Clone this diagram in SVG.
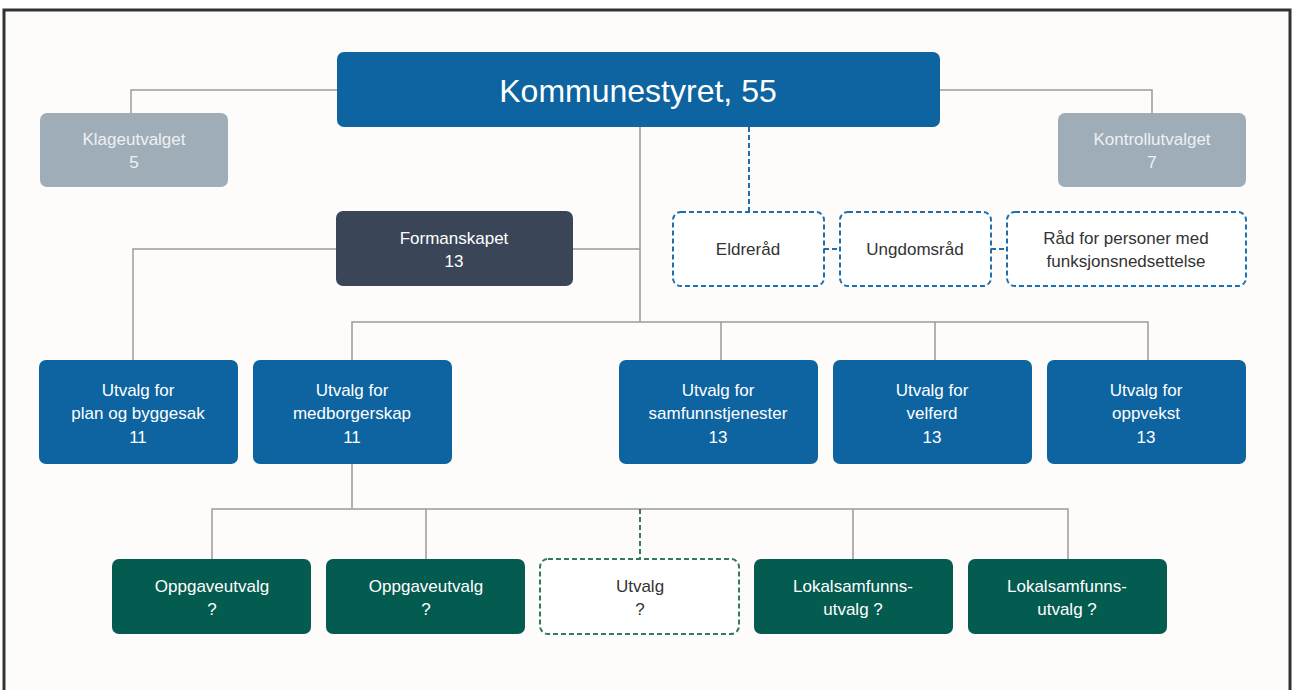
<svg xmlns="http://www.w3.org/2000/svg" width="1295" height="690" viewBox="0 0 1295 690">
<style>
.t{font-family:"Liberation Sans",Arial,sans-serif;font-size:17px;text-anchor:middle}
.w{fill:#ffffff}
.g{fill:#eef1f4}
.d{fill:#333333}
.blue{fill:#0d64a0}
.gray{fill:#9eadb8}
.dark{fill:#3a4658}
.green{fill:#045b50}
.dashb{fill:#ffffff;stroke:#1d6fb0;stroke-width:2;stroke-dasharray:5 3}
.dashg{fill:#ffffff;stroke:#2f7a62;stroke-width:2;stroke-dasharray:5 3}
.ln{fill:none;stroke:#9a9a9a;stroke-width:1.5}
.lnb{fill:none;stroke:#1d6fb0;stroke-width:2;stroke-dasharray:5 3}
.lng{fill:none;stroke:#2f7a62;stroke-width:2;stroke-dasharray:5 3}
</style>
<rect x="0" y="0" width="1295" height="690" fill="#ffffff"/>
<rect x="4" y="10" width="1286" height="690" fill="#fdfcfa" stroke="#333333" stroke-width="3"/>
<g id="connectors">
<polyline class="ln" points="337,90 131,90 131,113"/>
<polyline class="ln" points="940,90 1152,90 1152,113"/>
<line class="ln" x1="640" y1="127" x2="640" y2="322"/>
<line class="ln" x1="573" y1="249" x2="640" y2="249"/>
<polyline class="ln" points="336,249 133,249 133,360"/>
<polyline class="ln" points="352,360 352,322 1148,322 1148,360"/>
<line class="ln" x1="721" y1="322" x2="721" y2="360"/>
<line class="ln" x1="935" y1="322" x2="935" y2="360"/>
<line class="ln" x1="352" y1="464" x2="352" y2="509"/>
<polyline class="ln" points="212,559 212,509 1068,509 1068,559"/>
<line class="ln" x1="426" y1="509" x2="426" y2="559"/>
<line class="ln" x1="853" y1="509" x2="853" y2="559"/>
<line class="lng" x1="640" y1="509" x2="640" y2="559"/>
<line class="lnb" x1="749" y1="127" x2="749" y2="211"/>
<line class="lnb" x1="824" y1="249" x2="840" y2="249"/>
<line class="lnb" x1="991" y1="249" x2="1007" y2="249"/>
</g>
<g id="kommunestyret">
<rect class="blue" x="337" y="52" width="603" height="75" rx="7"/>
<text class="t w" x="638" y="102" style="font-size:32px">Kommunestyret, 55</text>
</g>
<g id="klageutvalget">
<rect class="gray" x="40" y="113" width="188" height="74" rx="7"/>
<text class="t g" x="134" y="145">Klageutvalget</text>
<text class="t g" x="134" y="168">5</text>
</g>
<g id="kontrollutvalget">
<rect class="gray" x="1058" y="113" width="188" height="74" rx="7"/>
<text class="t g" x="1152" y="145">Kontrollutvalget</text>
<text class="t g" x="1152" y="168">7</text>
</g>
<g id="formanskapet">
<rect class="dark" x="336" y="211" width="237" height="75" rx="7"/>
<text class="t w" x="454" y="244">Formanskapet</text>
<text class="t w" x="454" y="267">13</text>
</g>
<g id="eldrerad">
<rect class="dashb" x="673" y="212" width="151" height="74" rx="8"/>
<text class="t d" x="748" y="255">Eldreråd</text>
</g>
<g id="ungdomsrad">
<rect class="dashb" x="840" y="212" width="151" height="74" rx="8"/>
<text class="t d" x="915" y="255">Ungdomsråd</text>
</g>
<g id="rad-funksjon">
<rect class="dashb" x="1007" y="212" width="239" height="74" rx="8"/>
<text class="t d" x="1126" y="244">Råd for personer med</text>
<text class="t d" x="1126" y="267">funksjonsnedsettelse</text>
</g>
<g id="plan">
<rect class="blue" x="39" y="360" width="199" height="104" rx="7"/>
<text class="t w" x="138" y="396">Utvalg for</text>
<text class="t w" x="138" y="419">plan og byggesak</text>
<text class="t w" x="138" y="443">11</text>
</g>
<g id="medborgerskap">
<rect class="blue" x="253" y="360" width="199" height="104" rx="7"/>
<text class="t w" x="352" y="396">Utvalg for</text>
<text class="t w" x="352" y="419">medborgerskap</text>
<text class="t w" x="352" y="443">11</text>
</g>
<g id="samfunnstjenester">
<rect class="blue" x="619" y="360" width="199" height="104" rx="7"/>
<text class="t w" x="718" y="396">Utvalg for</text>
<text class="t w" x="718" y="419">samfunnstjenester</text>
<text class="t w" x="718" y="443">13</text>
</g>
<g id="velferd">
<rect class="blue" x="833" y="360" width="199" height="104" rx="7"/>
<text class="t w" x="932" y="396">Utvalg for</text>
<text class="t w" x="932" y="419">velferd</text>
<text class="t w" x="932" y="443">13</text>
</g>
<g id="oppvekst">
<rect class="blue" x="1047" y="360" width="199" height="104" rx="7"/>
<text class="t w" x="1146" y="396">Utvalg for</text>
<text class="t w" x="1146" y="419">oppvekst</text>
<text class="t w" x="1146" y="443">13</text>
</g>
<g id="oppgaveutvalg1">
<rect class="green" x="112" y="559" width="199" height="75" rx="7"/>
<text class="t w" x="212" y="592">Oppgaveutvalg</text>
<text class="t w" x="212" y="615">?</text>
</g>
<g id="oppgaveutvalg2">
<rect class="green" x="326" y="559" width="199" height="75" rx="7"/>
<text class="t w" x="426" y="592">Oppgaveutvalg</text>
<text class="t w" x="426" y="615">?</text>
</g>
<g id="utvalg">
<rect class="dashg" x="540" y="559" width="199" height="75" rx="8"/>
<text class="t d" x="640" y="592">Utvalg</text>
<text class="t d" x="640" y="615">?</text>
</g>
<g id="lokalsamfunn1">
<rect class="green" x="754" y="559" width="199" height="75" rx="7"/>
<text class="t w" x="853" y="592">Lokalsamfunns-</text>
<text class="t w" x="853" y="615">utvalg ?</text>
</g>
<g id="lokalsamfunn2">
<rect class="green" x="968" y="559" width="199" height="75" rx="7"/>
<text class="t w" x="1067" y="592">Lokalsamfunns-</text>
<text class="t w" x="1067" y="615">utvalg ?</text>
</g>
</svg>
